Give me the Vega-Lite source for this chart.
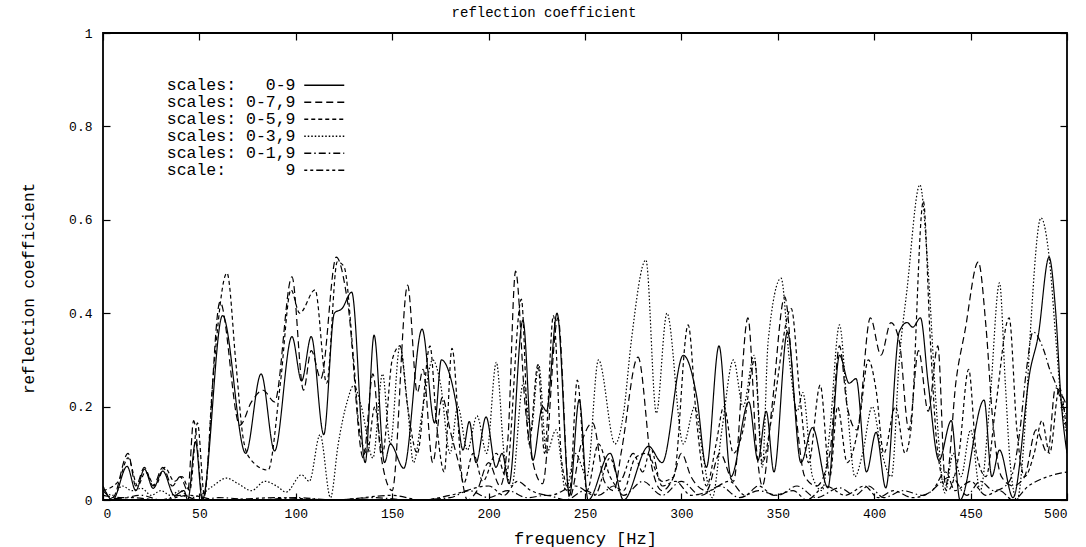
{
  "$schema": "https://vega.github.io/schema/vega-lite/v6.json",
  "width": 964,
  "height": 467,
  "autosize": {"type": "none"},
  "padding": {"left": 103, "top": 33, "right": 19, "bottom": 47},
  "background": "white",
  "title": {"text": "reflection coefficient", "fontSize": 14, "fontWeight": "normal", "font": "Liberation Mono", "color": "black", "anchor": "middle", "dx": -41, "offset": 7},
  "datasets": {
    "curves": [
      {"s":"a","f":0,"r":0.03},{"s":"a","f":5,"r":0.0},{"s":"a","f":12.5,"r":0.072},{"s":"a","f":17,"r":0.02},{"s":"a","f":21.5,"r":0.066},{"s":"a","f":26,"r":0.025},{"s":"a","f":31,"r":0.062},{"s":"a","f":37,"r":0.01},{"s":"a","f":42,"r":0.02},{"s":"a","f":44,"r":0.0},{"s":"a","f":48,"r":0.125},{"s":"a","f":51.5,"r":0.0},{"s":"a","f":62,"r":0.395},{"s":"a","f":74,"r":0.1},{"s":"a","f":82,"r":0.27},{"s":"a","f":89,"r":0.105},{"s":"a","f":98,"r":0.35},{"s":"a","f":103,"r":0.255},{"s":"a","f":108,"r":0.35},{"s":"a","f":114.5,"r":0.14},{"s":"a","f":120,"r":0.4},{"s":"a","f":124,"r":0.41},{"s":"a","f":129,"r":0.445},{"s":"a","f":136,"r":0.08},{"s":"a","f":140.6,"r":0.353},{"s":"a","f":146,"r":0.08},{"s":"a","f":149,"r":0.12},{"s":"a","f":156,"r":0.068},{"s":"a","f":165.5,"r":0.366},{"s":"a","f":172,"r":0.165},{"s":"a","f":175.5,"r":0.3},{"s":"a","f":183,"r":0.21},{"s":"a","f":186.7,"r":0.107},{"s":"a","f":190,"r":0.168},{"s":"a","f":193.5,"r":0.08},{"s":"a","f":198.7,"r":0.178},{"s":"a","f":203.8,"r":0.07},{"s":"a","f":207,"r":0.1},{"s":"a","f":210.6,"r":0.035},{"s":"a","f":217.8,"r":0.385},{"s":"a","f":223,"r":0.085},{"s":"a","f":228,"r":0.2},{"s":"a","f":230,"r":0.19},{"s":"a","f":235.5,"r":0.4},{"s":"a","f":242,"r":0.01},{"s":"a","f":247,"r":0.215},{"s":"a","f":251.6,"r":0.0},{"s":"a","f":263,"r":0.1},{"s":"a","f":270,"r":0.0},{"s":"a","f":283,"r":0.115},{"s":"a","f":290,"r":0.08},{"s":"a","f":301,"r":0.31},{"s":"a","f":308,"r":0.22},{"s":"a","f":313,"r":0.07},{"s":"a","f":319.5,"r":0.33},{"s":"a","f":325.7,"r":0.05},{"s":"a","f":335,"r":0.21},{"s":"a","f":339.7,"r":0.085},{"s":"a","f":344,"r":0.19},{"s":"a","f":348,"r":0.06},{"s":"a","f":355,"r":0.36},{"s":"a","f":362,"r":0.08},{"s":"a","f":368,"r":0.155},{"s":"a","f":376,"r":0.026},{"s":"a","f":382,"r":0.31},{"s":"a","f":387,"r":0.25},{"s":"a","f":390.6,"r":0.26},{"s":"a","f":396,"r":0.06},{"s":"a","f":401,"r":0.145},{"s":"a","f":406,"r":0.026},{"s":"a","f":413,"r":0.36},{"s":"a","f":417,"r":0.38},{"s":"a","f":420,"r":0.37},{"s":"a","f":424,"r":0.39},{"s":"a","f":428,"r":0.25},{"s":"a","f":433.6,"r":0.085},{"s":"a","f":440,"r":0.17},{"s":"a","f":444.5,"r":0.0},{"s":"a","f":457,"r":0.214},{"s":"a","f":461,"r":0.05},{"s":"a","f":465,"r":0.107},{"s":"a","f":472,"r":0.005},{"s":"a","f":481,"r":0.28},{"s":"a","f":485,"r":0.35},{"s":"a","f":490.7,"r":0.52},{"s":"a","f":494,"r":0.41},{"s":"a","f":497,"r":0.21},{"s":"a","f":500,"r":0.1},

      {"s":"b","f":0,"r":0.02},{"s":"b","f":5,"r":0.005},{"s":"b","f":13,"r":0.1},{"s":"b","f":17,"r":0.03},{"s":"b","f":21.5,"r":0.07},{"s":"b","f":26,"r":0.03},{"s":"b","f":31,"r":0.07},{"s":"b","f":36,"r":0.03},{"s":"b","f":40,"r":0.05},{"s":"b","f":44,"r":0.02},{"s":"b","f":47,"r":0.17},{"s":"b","f":52,"r":0.0},{"s":"b","f":60.7,"r":0.424},{"s":"b","f":71,"r":0.16},{"s":"b","f":77,"r":0.21},{"s":"b","f":83,"r":0.235},{"s":"b","f":89,"r":0.21},{"s":"b","f":98,"r":0.478},{"s":"b","f":104,"r":0.235},{"s":"b","f":108,"r":0.32},{"s":"b","f":113,"r":0.26},{"s":"b","f":121,"r":0.52},{"s":"b","f":127,"r":0.42},{"s":"b","f":135,"r":0.09},{"s":"b","f":140,"r":0.27},{"s":"b","f":144,"r":0.1},{"s":"b","f":150,"r":0.02},{"s":"b","f":158,"r":0.46},{"s":"b","f":163,"r":0.23},{"s":"b","f":166,"r":0.28},{"s":"b","f":171,"r":0.08},{"s":"b","f":176,"r":0.22},{"s":"b","f":180,"r":0.15},{"s":"b","f":185,"r":0.07},{"s":"b","f":189,"r":0.0},{"s":"b","f":194,"r":0.02},{"s":"b","f":200,"r":0.08},{"s":"b","f":206,"r":0.03},{"s":"b","f":210,"r":0.13},{"s":"b","f":214,"r":0.49},{"s":"b","f":219,"r":0.2},{"s":"b","f":223,"r":0.08},{"s":"b","f":228,"r":0.035},{"s":"b","f":236,"r":0.39},{"s":"b","f":242,"r":0.005},{"s":"b","f":248,"r":0.12},{"s":"b","f":254,"r":0.165},{"s":"b","f":260,"r":0.04},{"s":"b","f":265,"r":0.02},{"s":"b","f":269,"r":0.107},{"s":"b","f":277.5,"r":0.306},{"s":"b","f":284.7,"r":0.07},{"s":"b","f":290,"r":0.02},{"s":"b","f":296,"r":0.05},{"s":"b","f":300,"r":0.1},{"s":"b","f":305,"r":0.05},{"s":"b","f":313,"r":0.02},{"s":"b","f":320,"r":0.1},{"s":"b","f":327,"r":0.04},{"s":"b","f":334.5,"r":0.39},{"s":"b","f":339,"r":0.107},{"s":"b","f":342,"r":0.03},{"s":"b","f":347,"r":0.2},{"s":"b","f":353.6,"r":0.435},{"s":"b","f":359,"r":0.2},{"s":"b","f":364,"r":0.05},{"s":"b","f":370,"r":0.03},{"s":"b","f":377,"r":0.1},{"s":"b","f":382,"r":0.33},{"s":"b","f":386,"r":0.2},{"s":"b","f":391,"r":0.15},{"s":"b","f":398,"r":0.39},{"s":"b","f":403.5,"r":0.31},{"s":"b","f":408.7,"r":0.38},{"s":"b","f":413,"r":0.34},{"s":"b","f":418,"r":0.15},{"s":"b","f":423,"r":0.32},{"s":"b","f":428,"r":0.19},{"s":"b","f":433,"r":0.33},{"s":"b","f":437,"r":0.03},{"s":"b","f":442.6,"r":0.26},{"s":"b","f":447,"r":0.36},{"s":"b","f":454,"r":0.51},{"s":"b","f":458,"r":0.37},{"s":"b","f":461.6,"r":0.165},{"s":"b","f":466,"r":0.05},{"s":"b","f":472,"r":0.03},{"s":"b","f":478,"r":0.05},{"s":"b","f":484,"r":0.15},{"s":"b","f":490,"r":0.1},{"s":"b","f":494,"r":0.24},{"s":"b","f":500,"r":0.2},

      {"s":"c","f":0,"r":0.02},{"s":"c","f":8,"r":0.04},{"s":"c","f":13,"r":0.09},{"s":"c","f":18,"r":0.03},{"s":"c","f":22,"r":0.06},{"s":"c","f":27,"r":0.03},{"s":"c","f":32,"r":0.07},{"s":"c","f":37,"r":0.04},{"s":"c","f":41,"r":0.05},{"s":"c","f":45,"r":0.02},{"s":"c","f":49,"r":0.165},{"s":"c","f":52.6,"r":0.01},{"s":"c","f":57,"r":0.257},{"s":"c","f":64.3,"r":0.486},{"s":"c","f":69,"r":0.29},{"s":"c","f":72.6,"r":0.135},{"s":"c","f":76,"r":0.09},{"s":"c","f":85.6,"r":0.064},{"s":"c","f":92,"r":0.25},{"s":"c","f":97.5,"r":0.45},{"s":"c","f":102,"r":0.4},{"s":"c","f":110,"r":0.45},{"s":"c","f":116,"r":0.25},{"s":"c","f":121.5,"r":0.51},{"s":"c","f":125,"r":0.5},{"s":"c","f":130,"r":0.3},{"s":"c","f":133,"r":0.15},{"s":"c","f":137,"r":0.1},{"s":"c","f":141,"r":0.2},{"s":"c","f":145,"r":0.1},{"s":"c","f":150,"r":0.3},{"s":"c","f":154,"r":0.33},{"s":"c","f":158,"r":0.2},{"s":"c","f":163,"r":0.1},{"s":"c","f":169.6,"r":0.33},{"s":"c","f":173,"r":0.165},{"s":"c","f":177,"r":0.06},{"s":"c","f":181,"r":0.325},{"s":"c","f":187,"r":0.035},{"s":"c","f":192,"r":0.1},{"s":"c","f":197,"r":0.04},{"s":"c","f":204,"r":0.1},{"s":"c","f":209,"r":0.05},{"s":"c","f":217,"r":0.43},{"s":"c","f":221,"r":0.12},{"s":"c","f":225.6,"r":0.29},{"s":"c","f":229,"r":0.1},{"s":"c","f":233.6,"r":0.395},{"s":"c","f":238,"r":0.08},{"s":"c","f":242,"r":0.02},{"s":"c","f":246,"r":0.257},{"s":"c","f":251,"r":0.02},{"s":"c","f":257,"r":0.12},{"s":"c","f":263,"r":0.05},{"s":"c","f":270,"r":0.02},{"s":"c","f":276,"r":0.09},{"s":"c","f":282,"r":0.1},{"s":"c","f":290,"r":0.04},{"s":"c","f":296,"r":0.05},{"s":"c","f":303.5,"r":0.375},{"s":"c","f":308,"r":0.165},{"s":"c","f":313,"r":0.03},{"s":"c","f":318,"r":0.12},{"s":"c","f":322,"r":0.2},{"s":"c","f":327,"r":0.1},{"s":"c","f":332,"r":0.15},{"s":"c","f":338,"r":0.3},{"s":"c","f":342,"r":0.08},{"s":"c","f":347,"r":0.18},{"s":"c","f":357,"r":0.41},{"s":"c","f":361.5,"r":0.22},{"s":"c","f":366,"r":0.08},{"s":"c","f":372,"r":0.246},{"s":"c","f":377,"r":0.05},{"s":"c","f":381,"r":0.2},{"s":"c","f":386,"r":0.08},{"s":"c","f":392,"r":0.16},{"s":"c","f":397,"r":0.3},{"s":"c","f":401,"r":0.235},{"s":"c","f":405,"r":0.1},{"s":"c","f":411,"r":0.2},{"s":"c","f":416,"r":0.1},{"s":"c","f":419,"r":0.15},{"s":"c","f":425.5,"r":0.64},{"s":"c","f":429,"r":0.35},{"s":"c","f":433,"r":0.1},{"s":"c","f":438,"r":0.02},{"s":"c","f":444,"r":0.1},{"s":"c","f":449,"r":0.28},{"s":"c","f":453,"r":0.1},{"s":"c","f":458,"r":0.05},{"s":"c","f":463,"r":0.2},{"s":"c","f":470,"r":0.39},{"s":"c","f":474,"r":0.15},{"s":"c","f":478,"r":0.05},{"s":"c","f":483,"r":0.1},{"s":"c","f":487,"r":0.17},{"s":"c","f":491,"r":0.1},{"s":"c","f":496,"r":0.24},{"s":"c","f":500,"r":0.14},

      {"s":"d","f":0,"r":0.02},{"s":"d","f":5,"r":0.01},{"s":"d","f":10,"r":0.03},{"s":"d","f":15,"r":0.02},{"s":"d","f":20,"r":0.025},{"s":"d","f":25,"r":0.01},{"s":"d","f":30,"r":0.02},{"s":"d","f":35,"r":0.01},{"s":"d","f":40,"r":0.02},{"s":"d","f":45,"r":0.005},{"s":"d","f":50,"r":0.01},{"s":"d","f":57,"r":0.03},{"s":"d","f":64,"r":0.047},{"s":"d","f":70,"r":0.035},{"s":"d","f":77,"r":0.02},{"s":"d","f":84,"r":0.04},{"s":"d","f":90,"r":0.03},{"s":"d","f":95,"r":0.017},{"s":"d","f":103,"r":0.054},{"s":"d","f":107,"r":0.04},{"s":"d","f":112.6,"r":0.14},{"s":"d","f":118,"r":0.005},{"s":"d","f":122,"r":0.12},{"s":"d","f":126.6,"r":0.21},{"s":"d","f":130,"r":0.245},{"s":"d","f":134,"r":0.2},{"s":"d","f":140,"r":0.09},{"s":"d","f":145,"r":0.27},{"s":"d","f":149,"r":0.12},{"s":"d","f":154,"r":0.33},{"s":"d","f":158,"r":0.2},{"s":"d","f":161,"r":0.08},{"s":"d","f":166,"r":0.2},{"s":"d","f":171,"r":0.3},{"s":"d","f":175,"r":0.25},{"s":"d","f":180,"r":0.1},{"s":"d","f":184,"r":0.2},{"s":"d","f":189,"r":0.107},{"s":"d","f":194,"r":0.18},{"s":"d","f":199,"r":0.1},{"s":"d","f":204,"r":0.295},{"s":"d","f":208,"r":0.1},{"s":"d","f":212,"r":0.03},{"s":"d","f":218,"r":0.25},{"s":"d","f":222,"r":0.15},{"s":"d","f":226,"r":0.29},{"s":"d","f":230,"r":0.1},{"s":"d","f":235,"r":0.15},{"s":"d","f":240,"r":0.02},{"s":"d","f":245,"r":0.1},{"s":"d","f":251,"r":0.05},{"s":"d","f":257,"r":0.3},{"s":"d","f":265.6,"r":0.12},{"s":"d","f":270,"r":0.186},{"s":"d","f":274,"r":0.34},{"s":"d","f":281.6,"r":0.514},{"s":"d","f":287,"r":0.186},{"s":"d","f":292.5,"r":0.4},{"s":"d","f":301,"r":0.12},{"s":"d","f":307,"r":0.2},{"s":"d","f":311,"r":0.1},{"s":"d","f":316,"r":0.005},{"s":"d","f":321,"r":0.15},{"s":"d","f":327,"r":0.3},{"s":"d","f":332,"r":0.2},{"s":"d","f":337.7,"r":0.31},{"s":"d","f":342,"r":0.07},{"s":"d","f":345,"r":0.34},{"s":"d","f":351.7,"r":0.475},{"s":"d","f":356,"r":0.3},{"s":"d","f":360,"r":0.19},{"s":"d","f":363,"r":0.23},{"s":"d","f":368,"r":0.05},{"s":"d","f":373,"r":0.02},{"s":"d","f":377,"r":0.15},{"s":"d","f":382,"r":0.375},{"s":"d","f":386,"r":0.2},{"s":"d","f":390,"r":0.05},{"s":"d","f":394,"r":0.1},{"s":"d","f":399,"r":0.2},{"s":"d","f":404,"r":0.1},{"s":"d","f":409,"r":0.05},{"s":"d","f":413,"r":0.3},{"s":"d","f":417,"r":0.45},{"s":"d","f":423.7,"r":0.675},{"s":"d","f":428,"r":0.49},{"s":"d","f":432,"r":0.21},{"s":"d","f":436.7,"r":0.015},{"s":"d","f":441,"r":0.1},{"s":"d","f":445,"r":0.05},{"s":"d","f":450,"r":0.15},{"s":"d","f":455,"r":0.02},{"s":"d","f":460,"r":0.21},{"s":"d","f":465,"r":0.465},{"s":"d","f":468,"r":0.25},{"s":"d","f":470.5,"r":0.08},{"s":"d","f":474,"r":0.0},{"s":"d","f":479,"r":0.21},{"s":"d","f":481,"r":0.36},{"s":"d","f":486.5,"r":0.604},{"s":"d","f":491,"r":0.51},{"s":"d","f":494.3,"r":0.34},{"s":"d","f":497,"r":0.21},{"s":"d","f":500,"r":0.14},

      {"s":"e","f":0,"r":0.01},{"s":"e","f":10,"r":0.005},{"s":"e","f":20,"r":0.01},{"s":"e","f":30,"r":0.0},{"s":"e","f":40,"r":0.01},{"s":"e","f":50,"r":0.0},{"s":"e","f":60,"r":0.005},{"s":"e","f":80,"r":0.0},{"s":"e","f":100,"r":0.005},{"s":"e","f":120,"r":0.0},{"s":"e","f":140,"r":0.005},{"s":"e","f":160,"r":0.0},{"s":"e","f":180,"r":0.005},{"s":"e","f":190,"r":0.02},{"s":"e","f":200,"r":0.005},{"s":"e","f":210,"r":0.02},{"s":"e","f":220,"r":0.005},{"s":"e","f":230,"r":0.01},{"s":"e","f":240,"r":0.0},{"s":"e","f":250,"r":0.02},{"s":"e","f":257,"r":0.01},{"s":"e","f":265,"r":0.03},{"s":"e","f":270,"r":0.01},{"s":"e","f":280,"r":0.04},{"s":"e","f":290,"r":0.01},{"s":"e","f":300,"r":0.04},{"s":"e","f":310,"r":0.01},{"s":"e","f":320,"r":0.03},{"s":"e","f":330,"r":0.005},{"s":"e","f":340,"r":0.02},{"s":"e","f":350,"r":0.01},{"s":"e","f":360,"r":0.03},{"s":"e","f":370,"r":0.005},{"s":"e","f":382,"r":0.026},{"s":"e","f":390,"r":0.01},{"s":"e","f":397,"r":0.03},{"s":"e","f":405,"r":0.005},{"s":"e","f":415,"r":0.02},{"s":"e","f":425,"r":0.01},{"s":"e","f":440,"r":0.05},{"s":"e","f":448,"r":0.01},{"s":"e","f":455,"r":0.04},{"s":"e","f":462,"r":0.02},{"s":"e","f":468,"r":0.03},{"s":"e","f":472,"r":0.06},{"s":"e","f":475.6,"r":0.15},{"s":"e","f":479,"r":0.28},{"s":"e","f":482.4,"r":0.36},{"s":"e","f":488,"r":0.32},{"s":"e","f":491,"r":0.28},{"s":"e","f":494,"r":0.25},{"s":"e","f":498,"r":0.2},{"s":"e","f":500,"r":0.18},

      {"s":"f","f":0,"r":0.0},{"s":"f","f":15,"r":0.005},{"s":"f","f":30,"r":0.0},{"s":"f","f":45,"r":0.01},{"s":"f","f":60,"r":0.0},{"s":"f","f":90,"r":0.005},{"s":"f","f":120,"r":0.0},{"s":"f","f":150,"r":0.01},{"s":"f","f":165,"r":0.0},{"s":"f","f":180,"r":0.01},{"s":"f","f":200,"r":0.03},{"s":"f","f":208,"r":0.01},{"s":"f","f":215,"r":0.04},{"s":"f","f":222,"r":0.02},{"s":"f","f":232,"r":0.01},{"s":"f","f":245,"r":0.03},{"s":"f","f":255,"r":0.01},{"s":"f","f":263,"r":0.09},{"s":"f","f":268,"r":0.04},{"s":"f","f":275,"r":0.1},{"s":"f","f":280,"r":0.06},{"s":"f","f":284,"r":0.11},{"s":"f","f":290,"r":0.03},{"s":"f","f":297,"r":0.04},{"s":"f","f":305,"r":0.01},{"s":"f","f":315,"r":0.02},{"s":"f","f":325,"r":0.04},{"s":"f","f":333,"r":0.01},{"s":"f","f":340,"r":0.03},{"s":"f","f":348,"r":0.01},{"s":"f","f":358,"r":0.02},{"s":"f","f":365,"r":0.0},{"s":"f","f":375,"r":0.03},{"s":"f","f":385,"r":0.01},{"s":"f","f":395,"r":0.03},{"s":"f","f":402,"r":0.005},{"s":"f","f":410,"r":0.02},{"s":"f","f":420,"r":0.005},{"s":"f","f":430,"r":0.02},{"s":"f","f":437,"r":0.06},{"s":"f","f":442,"r":0.02},{"s":"f","f":450,"r":0.04},{"s":"f","f":458,"r":0.01},{"s":"f","f":465,"r":0.02},{"s":"f","f":472,"r":0.0},{"s":"f","f":480,"r":0.03},{"s":"f","f":490,"r":0.05},{"s":"f","f":500,"r":0.06}
    ]
  },
  "data": {"name": "curves"},
  "layer": [
    {
      "mark": {"type": "line", "color": "black", "strokeWidth": 1.2, "interpolate": "monotone", "clip": true},
      "encoding": {
        "x": {"field": "f", "type": "quantitative", "scale": {"domain": [0, 500], "nice": false},
              "axis": {"orient": "bottom", "values": [0,50,100,150,200,250,300,350,400,450,500], "title": "frequency [Hz]", "titleX": 482, "titleY": 38, "titleBaseline": "middle", "titleFontSize": 17, "labelPadding": 14}},
        "y": {"field": "r", "type": "quantitative", "scale": {"domain": [0, 1], "nice": false},
              "axis": {"orient": "left", "values": [0,0.2,0.4,0.6,0.8,1], "labelExpr": "'' + datum.value", "title": "reflection coefficient", "titleX": -75, "titleY": 255, "titleAngle": -90, "titleAlign": "center", "titleBaseline": "middle", "titleFontSize": 16, "labelPadding": 18}},
        "strokeDash": {"field": "s", "type": "nominal",
          "scale": {"domain": ["a","b","c","d","e","f"], "range": [[1,0],[7,4],[4,3],[1.5,2],[7,3,1.5,3],[3,3,3,3,7,3]]},
          "legend": {"orient": "none", "legendX": 193, "legendY": 44, "title": null, "symbolType": "M0,0L8,0", "symbolSize": 100, "symbolStrokeWidth": 1.3, "symbolStrokeColor": "black", "labelAlign": "right", "labelOffset": -17, "labelFontSize": 16.5, "labelFont": "Liberation Mono", "labelColor": "black", "rowPadding": 0, "padding": 0,
            "labelExpr": "datum.value == 'a' ? 'scales:\u00a0\u00a0\u00a00-9' : datum.value == 'b' ? 'scales:\u00a00-7,9' : datum.value == 'c' ? 'scales:\u00a00-5,9' : datum.value == 'd' ? 'scales:\u00a00-3,9' : datum.value == 'e' ? 'scales:\u00a00-1,9' : 'scale:\u00a0\u00a0\u00a0\u00a0\u00a0\u00a09'"}}
      }
    },
    {
      "mark": {"type": "point", "opacity": 0},
      "encoding": {
        "x": {"field": "f", "type": "quantitative", "axis": {"orient": "top", "values": [0,50,100,150,200,250,300,350,400,450,500], "labels": false, "title": null}},
        "y": {"field": "r", "type": "quantitative", "axis": {"orient": "right", "values": [0,0.2,0.4,0.6,0.8,1], "labels": false, "title": null}}
      }
    }
  ],
  "resolve": {"axis": {"x": "independent", "y": "independent"}},
  "config": {
    "font": "Liberation Mono",
    "view": {"stroke": "black", "strokeWidth": 1.8},
    "axis": {"domain": false, "grid": false, "ticks": true, "tickColor": "black", "tickSize": -7, "tickWidth": 1.2, "labelColor": "black", "labelFont": "Liberation Mono", "labelFontSize": 13, "titleFont": "Liberation Mono", "titleFontWeight": "normal", "titleColor": "black", "titleFontSize": 13}
  }
}
